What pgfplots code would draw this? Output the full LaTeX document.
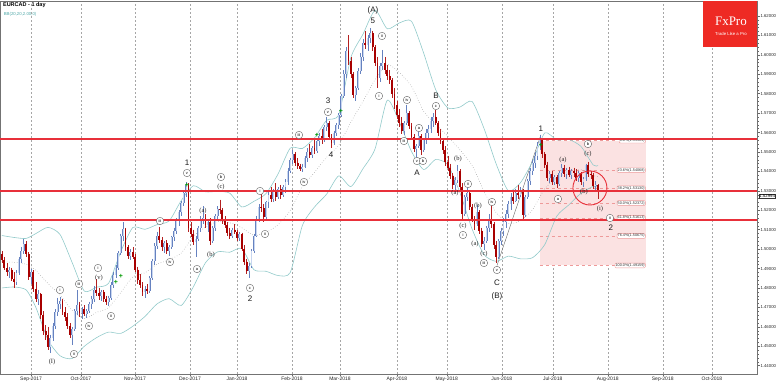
\documentclass[border=0pt]{standalone}
\usepackage{fontspec}
\setmainfont{Liberation Sans}
\newfontfamily\seriffont{Liberation Serif}
\usepackage{pgfplots}
\usepackage{pgfplotstable}
\pgfplotsset{compat=1.18}
\definecolor{bullb}{HTML}{6682C0}
\definecolor{bullf}{HTML}{C8D6F0}
\definecolor{bear}{HTML}{A80000}
\definecolor{bearw}{HTML}{B42020}
\definecolor{bband}{HTML}{92CACA}
\definecolor{lvl}{HTML}{E8303A}
\definecolor{fxred}{HTML}{EE2A24}
\definecolor{fibpink}{HTML}{FBE2E2}
\definecolor{fibline}{HTML}{EE9A9A}

\pgfplotstableread{
i o h l c
-12 1.4975 1.4990 1.4930 1.4945
-11 1.4945 1.4960 1.4890 1.4905
-10 1.4905 1.4930 1.4860 1.4880
-9 1.4880 1.4910 1.4850 1.4895
-8 1.4895 1.4905 1.4835 1.4845
-7 1.4845 1.4880 1.4800 1.4830
-6 1.4830 1.4890 1.4815 1.4875
-5 1.4875 1.4960 1.4865 1.4950
-4 1.4950 1.5010 1.4930 1.4990
-3 1.4990 1.5050 1.4975 1.5025
-2 1.5025 1.5040 1.4960 1.4975
-1 1.4975 1.4985 1.4840 1.4855
0 1.4855 1.4900 1.4820 1.4880
1 1.4880 1.4890 1.4780 1.4795
2 1.4795 1.4830 1.4730 1.4745
3 1.4745 1.4790 1.4710 1.4770
4 1.4770 1.4775 1.4640 1.4660
5 1.4660 1.4680 1.4560 1.4580
6 1.4580 1.4610 1.4530 1.4560
7 1.4560 1.4600 1.4480 1.4495
8 1.4495 1.4560 1.4465 1.4540
9 1.4540 1.4620 1.4525 1.4605
10 1.4605 1.4690 1.4590 1.4675
11 1.4675 1.4750 1.4655 1.4720
12 1.4720 1.4755 1.4690 1.4735
13 1.4735 1.4745 1.4660 1.4675
14 1.4675 1.4700 1.4630 1.4650
15 1.4650 1.4670 1.4590 1.4605
16 1.4605 1.4620 1.4545 1.4560
17 1.4560 1.4600 1.4505 1.4590
18 1.4590 1.4690 1.4580 1.4680
19 1.4680 1.4790 1.4660 1.4710
20 1.4710 1.4730 1.4650 1.4670
21 1.4670 1.4700 1.4640 1.4690
22 1.4690 1.4710 1.4655 1.4665
23 1.4665 1.4690 1.4645 1.4680
24 1.4680 1.4730 1.4670 1.4720
25 1.4720 1.4760 1.4690 1.4745
26 1.4745 1.4810 1.4730 1.4790
27 1.4790 1.4845 1.4760 1.4775
28 1.4775 1.4800 1.4740 1.4760
29 1.4760 1.4790 1.4735 1.4780
30 1.4780 1.4790 1.4730 1.4745
31 1.4745 1.4760 1.4710 1.4730
32 1.4730 1.4760 1.4705 1.4750
33 1.4750 1.4830 1.4740 1.4815
34 1.4815 1.4880 1.4800 1.4865
35 1.4865 1.4920 1.4850 1.4905
36 1.4905 1.4990 1.4895 1.4980
37 1.4980 1.5080 1.4970 1.5070
38 1.5070 1.5140 1.5040 1.5105
39 1.5105 1.5110 1.4990 1.5010
40 1.5010 1.5020 1.4950 1.4965
41 1.4965 1.5000 1.4945 1.4985
42 1.4985 1.5010 1.4950 1.4960
43 1.4960 1.4975 1.4880 1.4895
44 1.4895 1.4910 1.4820 1.4840
45 1.4840 1.4870 1.4800 1.4815
46 1.4815 1.4830 1.4760 1.4780
47 1.4780 1.4810 1.4750 1.4795
48 1.4795 1.4820 1.4770 1.4785
49 1.4785 1.4860 1.4775 1.4850
50 1.4850 1.4950 1.4840 1.4940
51 1.4940 1.5030 1.4920 1.5015
52 1.5015 1.5090 1.5000 1.5070
53 1.5070 1.5115 1.5030 1.5045
54 1.5045 1.5060 1.4990 1.5010
55 1.5010 1.5040 1.4980 1.5030
56 1.5030 1.5045 1.4975 1.4990
57 1.4990 1.5020 1.4965 1.5010
58 1.5010 1.5070 1.5000 1.5060
59 1.5060 1.5110 1.5040 1.5095
60 1.5095 1.5160 1.5080 1.5145
61 1.5145 1.5200 1.5120 1.5190
62 1.5190 1.5250 1.5170 1.5235
63 1.5235 1.5300 1.5220 1.5290
64 1.5290 1.5345 1.5270 1.5330
65 1.5330 1.5340 1.5090 1.5110
66 1.5110 1.5140 1.5060 1.5080
67 1.5080 1.5100 1.5020 1.5035
68 1.5035 1.5070 1.4960 1.5050
69 1.5050 1.5120 1.5040 1.5110
70 1.5110 1.5170 1.5090 1.5150
71 1.5150 1.5220 1.5130 1.5160
72 1.5160 1.5180 1.5110 1.5125
73 1.5125 1.5150 1.5090 1.5140
74 1.5140 1.5160 1.5020 1.5040
75 1.5040 1.5120 1.5030 1.5110
76 1.5110 1.5180 1.5095 1.5170
77 1.5170 1.5220 1.5150 1.5205
78 1.5205 1.5255 1.5180 1.5200
79 1.5200 1.5210 1.5130 1.5145
80 1.5145 1.5170 1.5110 1.5125
81 1.5125 1.5140 1.5070 1.5085
82 1.5085 1.5110 1.5050 1.5065
83 1.5065 1.5110 1.5055 1.5100
84 1.5100 1.5130 1.5080 1.5090
85 1.5090 1.5100 1.5040 1.5055
86 1.5055 1.5090 1.5040 1.5080
87 1.5080 1.5085 1.4990 1.5000
88 1.5000 1.5020 1.4920 1.4935
89 1.4935 1.4950 1.4870 1.4885
90 1.4885 1.4930 1.4850 1.4915
91 1.4915 1.5000 1.4905 1.4990
92 1.4990 1.5080 1.4980 1.5070
93 1.5070 1.5170 1.5060 1.5155
94 1.5155 1.5230 1.5140 1.5215
95 1.5215 1.5285 1.5190 1.5210
96 1.5210 1.5230 1.5140 1.5165
97 1.5165 1.5250 1.5150 1.5240
98 1.5240 1.5300 1.5210 1.5280
99 1.5280 1.5320 1.5240 1.5260
100 1.5260 1.5310 1.5240 1.5300
101 1.5300 1.5340 1.5250 1.5270
102 1.5270 1.5320 1.5260 1.5310
103 1.5310 1.5330 1.5260 1.5280
104 1.5280 1.5330 1.5270 1.5320
105 1.5320 1.5360 1.5290 1.5345
106 1.5345 1.5420 1.5330 1.5400
107 1.5400 1.5470 1.5390 1.5460
108 1.5460 1.5510 1.5440 1.5490
109 1.5490 1.5500 1.5430 1.5445
110 1.5445 1.5470 1.5410 1.5430
111 1.5430 1.5440 1.5400 1.5410
112 1.5410 1.5440 1.5395 1.5425
113 1.5425 1.5480 1.5415 1.5470
114 1.5470 1.5520 1.5450 1.5500
115 1.5500 1.5540 1.5470 1.5485
116 1.5485 1.5530 1.5470 1.5520
117 1.5520 1.5560 1.5490 1.5505
118 1.5505 1.5570 1.5495 1.5555
119 1.5555 1.5600 1.5530 1.5580
120 1.5580 1.5620 1.5540 1.5560
121 1.5560 1.5640 1.5550 1.5630
122 1.5630 1.5680 1.5610 1.5650
123 1.5650 1.5660 1.5560 1.5575
124 1.5575 1.5590 1.5520 1.5545
125 1.5545 1.5610 1.5535 1.5600
126 1.5600 1.5650 1.5580 1.5640
127 1.5640 1.5700 1.5620 1.5690
128 1.5690 1.5800 1.5680 1.5790
129 1.5790 1.5920 1.5780 1.5900
130 1.5900 1.6040 1.5880 1.6020
131 1.6020 1.6100 1.5950 1.5970
132 1.5970 1.5990 1.5880 1.5900
133 1.5900 1.5910 1.5780 1.5795
134 1.5795 1.5840 1.5760 1.5830
135 1.5830 1.5930 1.5820 1.5915
136 1.5915 1.6010 1.5900 1.5990
137 1.5990 1.6080 1.5970 1.6060
138 1.6060 1.6120 1.6030 1.6050
139 1.6050 1.6100 1.6020 1.6085
140 1.6085 1.6138 1.6060 1.6110
141 1.6110 1.6125 1.6020 1.6040
142 1.6040 1.6050 1.5940 1.5960
143 1.5960 1.5990 1.5830 1.5880
144 1.5880 1.5960 1.5860 1.5940
145 1.5940 1.6025 1.5920 1.5960
146 1.5960 1.5990 1.5900 1.5920
147 1.5920 1.5950 1.5870 1.5890
148 1.5890 1.5920 1.5850 1.5870
149 1.5870 1.5880 1.5780 1.5800
150 1.5800 1.5830 1.5720 1.5740
151 1.5740 1.5760 1.5670 1.5690
152 1.5690 1.5720 1.5630 1.5650
153 1.5650 1.5680 1.5590 1.5610
154 1.5610 1.5660 1.5585 1.5650
155 1.5650 1.5742 1.5640 1.5700
156 1.5700 1.5710 1.5620 1.5635
157 1.5635 1.5650 1.5560 1.5575
158 1.5575 1.5590 1.5500 1.5515
159 1.5515 1.5540 1.5460 1.5530
160 1.5530 1.5613 1.5520 1.5580
161 1.5580 1.5590 1.5485 1.5510
162 1.5510 1.5570 1.5500 1.5560
163 1.5560 1.5620 1.5540 1.5600
164 1.5600 1.5640 1.5570 1.5620
165 1.5620 1.5680 1.5600 1.5660
166 1.5660 1.5700 1.5630 1.5680
167 1.5680 1.5716 1.5640 1.5650
168 1.5650 1.5660 1.5580 1.5600
169 1.5600 1.5620 1.5540 1.5555
170 1.5555 1.5570 1.5490 1.5510
171 1.5510 1.5530 1.5430 1.5450
172 1.5450 1.5480 1.5400 1.5420
173 1.5420 1.5440 1.5360 1.5375
174 1.5375 1.5390 1.5310 1.5330
175 1.5330 1.5370 1.5300 1.5355
176 1.5355 1.5433 1.5340 1.5400
177 1.5400 1.5410 1.5300 1.5320
178 1.5320 1.5340 1.5150 1.5180
179 1.5180 1.5280 1.5170 1.5270
180 1.5270 1.5345 1.5250 1.5290
181 1.5290 1.5300 1.5200 1.5215
182 1.5215 1.5230 1.5140 1.5155
183 1.5155 1.5170 1.5098 1.5130
184 1.5130 1.5227 1.5120 1.5190
185 1.5190 1.5200 1.5080 1.5095
186 1.5095 1.5110 1.5010 1.5025
187 1.5025 1.5060 1.4996 1.5040
188 1.5040 1.5120 1.5030 1.5110
189 1.5110 1.5180 1.5090 1.5150
190 1.5150 1.5227 1.5110 1.5130
191 1.5130 1.5140 1.5000 1.5020
192 1.5020 1.5040 1.4928 1.4960
193 1.4960 1.5050 1.4950 1.5040
194 1.5040 1.5110 1.5020 1.5095
195 1.5095 1.5160 1.5070 1.5140
196 1.5140 1.5200 1.5110 1.5180
197 1.5180 1.5250 1.5160 1.5230
198 1.5230 1.5290 1.5200 1.5270
199 1.5270 1.5300 1.5230 1.5250
200 1.5250 1.5310 1.5240 1.5290
201 1.5290 1.5330 1.5260 1.5280
202 1.5280 1.5320 1.5270 1.5300
203 1.5300 1.5310 1.5155 1.5175
204 1.5175 1.5280 1.5165 1.5270
205 1.5270 1.5360 1.5260 1.5350
206 1.5350 1.5420 1.5330 1.5400
207 1.5400 1.5460 1.5380 1.5445
208 1.5445 1.5500 1.5420 1.5480
209 1.5480 1.5550 1.5460 1.5530
210 1.5530 1.5588 1.5510 1.5560
211 1.5560 1.5570 1.5470 1.5490
212 1.5490 1.5500 1.5420 1.5435
213 1.5435 1.5450 1.5350 1.5365
214 1.5365 1.5400 1.5340 1.5385
215 1.5385 1.5400 1.5330 1.5345
216 1.5345 1.5380 1.5330 1.5370
217 1.5370 1.5380 1.5315 1.5335
218 1.5335 1.5400 1.5325 1.5390
219 1.5390 1.5440 1.5370 1.5420
220 1.5420 1.5435 1.5370 1.5385
221 1.5385 1.5420 1.5360 1.5405
222 1.5405 1.5425 1.5370 1.5380
223 1.5380 1.5410 1.5360 1.5400
224 1.5400 1.5420 1.5370 1.5390
225 1.5390 1.5410 1.5350 1.5365
226 1.5365 1.5400 1.5345 1.5390
227 1.5390 1.5395 1.5330 1.5345
228 1.5345 1.5370 1.5320 1.5360
229 1.5360 1.5440 1.5350 1.5435
230 1.5435 1.5450 1.5370 1.5385
231 1.5385 1.5400 1.5360 1.5380
232 1.5380 1.5390 1.5310 1.5325
233 1.5325 1.5350 1.5300 1.5330
234 1.5330 1.5335 1.5260 1.5299
}\candles

\pgfplotstableread{
i u m lo
-12 1.5070 1.4935 1.4800
-7 1.5060 1.4932 1.4805
-2 1.5055 1.4922 1.4790
2 1.5080 1.4890 1.4700
7 1.5112 1.4823 1.4533
12 1.5075 1.4763 1.4451
17 1.4930 1.4684 1.4437
22 1.4784 1.4642 1.4500
27 1.4804 1.4674 1.4544
32 1.4824 1.4699 1.4573
37 1.4986 1.4776 1.4566
42 1.5111 1.4857 1.4603
47 1.5102 1.4878 1.4653
52 1.5126 1.4922 1.4718
57 1.5145 1.4945 1.4745
62 1.5250 1.4980 1.4710
67 1.5326 1.5066 1.4806
72 1.5295 1.5113 1.4930
77 1.5297 1.5142 1.4986
82 1.5288 1.5136 1.4984
87 1.5217 1.5110 1.5003
92 1.5246 1.5070 1.4894
97 1.5286 1.5086 1.4886
102 1.5388 1.5126 1.4864
107 1.5520 1.5200 1.4880
112 1.5518 1.5321 1.5122
117 1.5573 1.5395 1.5217
122 1.5663 1.5473 1.5283
127 1.5693 1.5535 1.5377
132 1.5986 1.5654 1.5322
137 1.6106 1.5760 1.5414
142 1.6229 1.5873 1.5517
147 1.6134 1.5950 1.5766
152 1.6164 1.5909 1.5654
157 1.6173 1.5838 1.5503
162 1.6010 1.5710 1.5410
167 1.5821 1.5641 1.5461
172 1.5727 1.5581 1.5434
177 1.5731 1.5511 1.5291
182 1.5760 1.5432 1.5104
187 1.5619 1.5295 1.4971
192 1.5437 1.5187 1.4937
197 1.5300 1.5132 1.4964
202 1.5342 1.5146 1.4950
207 1.5452 1.5204 1.4956
212 1.5598 1.5311 1.5023
217 1.5562 1.5366 1.5170
222 1.5564 1.5396 1.5228
227 1.5528 1.5408 1.5288
232 1.5433 1.5378 1.5323
234 1.5430 1.5374 1.5318
}\bands

% pixel position -> axis coordinates (annotations only)
\newcommand{\cl}[3]{\node[circle,draw=black!65,fill=white,line width=0.35pt,inner sep=0pt,minimum size=7.5pt,font=\fontsize{4}{4}\selectfont] at (axis cs:{(#1-31)/2.4235},{1.44+(365.7-#2)/1943}) {#3};}
\newcommand{\tl}[3]{\node[inner sep=0pt,text=black!85,font=\seriffont\fontsize{6.5}{7}\selectfont] at (axis cs:{(#1-31)/2.4235},{1.44+(365.7-#2)/1943}) {#3};}
\newcommand{\bl}[3]{\node[inner sep=0pt,text=black!90,font=\fontsize{8}{8}\selectfont] at (axis cs:{(#1-31)/2.4235},{1.44+(365.7-#2)/1943}) {#3};}
\newcommand{\gm}[2]{\node[inner sep=0pt,text=green!60!black,font=\bfseries\fontsize{7}{7}\selectfont] at (axis cs:{(#1-31)/2.4235},{1.44+(365.7-#2)/1943}) {+};}
\newcommand{\fib}[2]{%
 \addplot[fibline, dashed, line width=0.45pt, forget plot] coordinates {(210,#1) (242,#1)};
 \node[draw=fibline, fill=white, rounded corners=1pt, inner sep=0.6pt, anchor=east, font=\fontsize{3.8}{4}\selectfont, text=black!80] at (axis cs:253.6,#1) {#2};}

\begin{document}
\begin{tikzpicture}
\begin{axis}[
  at={(0pt,381pt)}, anchor=north west,
  scale only axis, width=757pt, height=373pt,
  xmin=-12.8, xmax=299.6, ymin=1.43573, ymax=1.6277,
  clip=false,
  axis line style={draw=black!55, line width=0.5pt},
  xtick={0,20.6,42.9,65.6,85,107.7,127.5,151,171.6,194.3,215.3,238,260.7,281},
  xticklabels={Sep-2017,Oct-2017,Nov-2017,Dec-2017,Jan-2018,Feb-2018,Mar-2018,Apr-2018,May-2018,Jun-2018,Jul-2018,Aug-2018,Sep-2018,Oct-2018},
  xtick pos=left, ytick pos=right, yticklabel pos=right,
  tick align=outside,
  major tick length=2.5pt, minor tick length=1.5pt,
  xmajorgrids,
  grid style={dash pattern=on 2pt off 2pt, black!35, line width=0.4pt},
  ytick={1.44,1.45,1.46,1.47,1.48,1.49,1.50,1.51,1.52,1.53,1.54,1.55,1.56,1.57,1.58,1.59,1.60,1.61,1.62},
  minor y tick num=4,
  scaled y ticks=false,
  yticklabel style={/pgf/number format/fixed, /pgf/number format/fixed zerofill, /pgf/number format/precision=5, /pgf/number format/assume math mode=true, font=\fontsize{4.3}{5}\selectfont, text=black!85, inner sep=0.8pt},
  xticklabel style={font=\fontsize{5}{5}\selectfont, text=black!85, inner sep=0.6pt},
  tick style={black!60, line width=0.4pt},
]
% Fibonacci area
\addplot[draw=none, fill=fibpink, forget plot] coordinates {(210,1.55584) (253.8,1.55584) (253.8,1.49159) (210,1.49159)} -- cycle;
\fib{1.55584}{0.0\%(1.55584)}
\fib{1.54068}{23.6\%(1.54068)}
\fib{1.53130}{38.2\%(1.53130)}
\fib{1.52372}{50.0\%(1.52372)}
\fib{1.51613}{61.8\%(1.51613)}
\fib{1.50675}{76.4\%(1.50675)}
\fib{1.49159}{100.0\%(1.49159)}
\addplot[black!60, line width=0.4pt, forget plot] coordinates {(192.3,1.4916) (210.4,1.5588)};

% Bollinger bands
\addplot[bband, line width=0.6pt, smooth, tension=0.4, forget plot] table[x=i,y=u]{\bands};
\addplot[bband, line width=0.6pt, smooth, tension=0.4, forget plot] table[x=i,y=lo]{\bands};
\addplot[black!45, dotted, line width=0.5pt, smooth, tension=0.4, forget plot] table[x=i,y=m]{\bands};

% wicks
\addplot[draw=none, mark=none, forget plot, restrict expr to domain={\thisrow{c}-\thisrow{o}}{0:1},
  error bars/.cd, y dir=minus, y explicit, error mark=none,
  error bar style={draw=bullb, line width=0.55pt}]
  table[x=i, y=h, y error minus expr={\thisrow{h}-\thisrow{l}}]{\candles};
\addplot[draw=none, mark=none, forget plot, restrict expr to domain={\thisrow{o}-\thisrow{c}}{0.00001:1},
  error bars/.cd, y dir=minus, y explicit, error mark=none,
  error bar style={draw=bearw, line width=0.55pt}]
  table[x=i, y=h, y error minus expr={\thisrow{h}-\thisrow{l}}]{\candles};
% bodies
\addplot[draw=none, mark=none, forget plot, restrict expr to domain={\thisrow{c}-\thisrow{o}}{0:1},
  error bars/.cd, y dir=minus, y explicit, error mark=none,
  error bar style={draw=bullb, line width=1.9pt}]
  table[x=i, y=c, y error minus expr={\thisrow{c}-\thisrow{o}}]{\candles};
\addplot[draw=none, mark=none, forget plot, restrict expr to domain={\thisrow{c}-\thisrow{o}}{0:1},
  error bars/.cd, y dir=minus, y explicit, error mark=none,
  error bar style={draw=bullf, line width=0.9pt}]
  table[x=i, y=c, y error minus expr={\thisrow{c}-\thisrow{o}}]{\candles};
\addplot[draw=none, mark=none, forget plot, restrict expr to domain={\thisrow{o}-\thisrow{c}}{0.00001:1},
  error bars/.cd, y dir=minus, y explicit, error mark=none,
  error bar style={draw=bear, line width=1.9pt}]
  table[x=i, y=o, y error minus expr={\thisrow{o}-\thisrow{c}}]{\candles};

% horizontal levels
\addplot[lvl, line width=1.4pt, forget plot] coordinates {(-12.8,1.5567) (299.6,1.5567)};
\addplot[lvl, line width=1.4pt, forget plot] coordinates {(-12.8,1.5300) (299.6,1.5300)};
\addplot[lvl, line width=1.4pt, forget plot] coordinates {(-12.8,1.5150) (299.6,1.5150)};

% red circle
\draw[lvl, line width=0.9pt] (axis cs:{(590-31)/2.4235},{1.44+(365.7-188)/1943}) circle[radius=17pt];

% wave labels
\cl{60}{290}{i} \cl{74}{354}{ii} \cl{79}{284}{iii} \cl{89}{326}{iv}
\tl{99}{278}{(v)} \cl{98}{268}{i} \cl{111}{316}{ii}
\cl{160}{221}{iii} \cl{170}{262}{iv} \cl{187}{173}{v}
\cl{197}{269}{a} \cl{221}{177}{b} \cl{250}{288}{c}
\cl{260}{191}{i} \cl{265}{234}{ii} \cl{299}{135}{iii} \cl{304}{182}{iv} \cl{328}{112}{v}
\cl{379}{96}{i} \cl{382}{36}{ii} \cl{404}{141}{iii} \cl{407}{100}{iv} \cl{417}{161}{v}
\cl{419}{128}{a} \cl{423}{161}{b} \cl{436}{106}{c}
\cl{468}{184}{ii} \cl{463}{235}{i} \cl{484}{263}{iii} \cl{492}{202}{iv} \cl{497}{270}{v}
\cl{558}{199}{a} \cl{588}{144}{b} \cl{610}{218}{ii}
\tl{203}{211}{(a)} \tl{211}{255}{(b)} \tl{221}{187}{(c)}
\tl{458}{159}{(b)} \tl{455}{193}{(a)} \tl{463}{226}{(c)}
\tl{478}{206}{(b)} \tl{475}{244}{(a)} \tl{484}{254}{(c)}
\tl{563}{160}{(a)} \tl{588}{154}{(c)} \tl{584}{192}{(b)} \tl{600}{209}{(i)}
\tl{52}{362}{(I)}
\bl{187}{163}{1} \bl{250}{299}{2} \bl{328}{101}{3} \bl{331}{155}{4} \bl{373}{21}{5}
\bl{373}{10}{(A)} \bl{417}{173}{A} \bl{436}{96}{B} \bl{497}{283}{C} \bl{497}{296}{(B)}
\bl{541}{129}{1} \bl{611}{228}{2}
\gm{116}{282} \gm{121}{276} \gm{187}{185} \gm{317}{135} \gm{341}{111} \gm{541}{145}

% title
\node[anchor=west, inner sep=0pt, font=\bfseries\fontsize{5.5}{6}\selectfont] at (axis cs:-11.6,1.6254) {EURCAD - 1 day};
\node[anchor=west, inner sep=0pt, text=teal!70, font=\fontsize{4.3}{5}\selectfont] at (axis cs:-11.3,1.6208) {BB(20,20,2.00,0)};

% logo
\fill[fxred] (axis cs:{(703-31)/2.4235},1.6277) rectangle (axis cs:299.6,{1.44+(365.7-47)/1943});
\node[text=white, inner sep=0pt, font=\seriffont\fontsize{13}{13}\selectfont] at (axis cs:{(731-31)/2.4235},{1.44+(365.7-21)/1943}) {FxPro};
\node[text=white, inner sep=0pt, font=\fontsize{4.3}{5}\selectfont] at (axis cs:{(731-31)/2.4235},{1.44+(365.7-34)/1943}) {Trade Like a Pro};

% current price box
\node[draw=black!80, fill=white, inner sep=0.5pt, anchor=west, font=\fontsize{4.3}{5}\selectfont] at (axis cs:300.3,{1.44+(365.7-196)/1943}) {1.52994};
\end{axis}
\pgfresetboundingbox
\path[use as bounding box] (0,0) rectangle (782pt,382pt);
\end{tikzpicture}
\end{document}
